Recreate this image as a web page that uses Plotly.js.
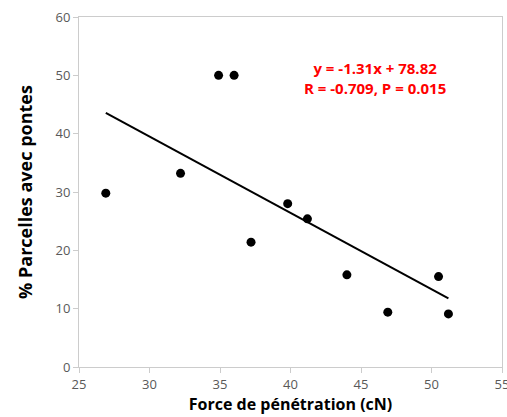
<!DOCTYPE html>
<html>
<head>
<meta charset="utf-8">
<script src="https://cdn.plot.ly/plotly-3.0.1.min.js"></script>
<style>html,body{margin:0;padding:0;background:#fff;}#chart{width:507px;height:417px;}</style>
</head>
<body>
<div id="chart"></div>
<script>
// Data
const force = [26.9, 32.2, 34.9, 36.0, 37.2, 39.8, 41.2, 44.0, 46.9, 50.5, 51.2];
const parcelles = [29.8, 33.2, 50.0, 50.0, 21.4, 28.0, 25.4, 15.8, 9.4, 15.5, 9.1];
const slope = -1.31;
const intercept = 78.82;
const xTicks = [25, 30, 35, 40, 45, 50, 55];
const yTicks = [0, 10, 20, 30, 40, 50, 60];
const eqText = 'y = -1.31x + 78.82<br>R = -0.709, P = 0.015';

const xMin = Math.min(...force), xMax = Math.max(...force);
const trendX = [xMin, xMax];
const trendY = trendX.map(x => slope * x + intercept);

const axisCommon = {
  showgrid: false, zeroline: false, showline: true, mirror: true,
  linecolor: '#cccccc', linewidth: 1,
  ticks: 'outside', ticklen: 5, tickcolor: '#cccccc',
  ticklabeloverflow: 'allow',
  tickfont: {family: 'Open Sans, sans-serif', size: 13, color: '#595959'}
};

Plotly.newPlot('chart', [
  {x: trendX, y: trendY, mode: 'lines', line: {color: '#000', width: 2}, hoverinfo: 'skip'},
  {x: force, y: parcelles, mode: 'markers', marker: {color: '#000', size: 9}}
], {
  width: 507, height: 417,
  margin: {l: 79, r: 5, t: 17, b: 50},
  showlegend: false,
  paper_bgcolor: '#fff', plot_bgcolor: '#fff',
  xaxis: Object.assign({}, axisCommon, {
    range: [25, 55], tickvals: xTicks,
    title: {text: 'Force de pénétration (cN)', font: {family: 'Open Sans, sans-serif', size: 16, color: '#000', weight: 'bold'}, standoff: 6}
  }),
  yaxis: Object.assign({}, axisCommon, {
    range: [0, 60], tickvals: yTicks,
    title: {text: '% Parcelles avec pontes', font: {family: 'Open Sans, sans-serif', size: 18, color: '#000', weight: 'bold'}, standoff: 18}
  }),
  annotations: [{
    x: 46.0, y: 49.5, xref: 'x', yref: 'y', text: eqText, showarrow: false,
    font: {family: 'Open Sans, sans-serif', size: 15, color: '#ff0000', weight: 'bold'},
    align: 'center'
  }]
}, {displayModeBar: false, staticPlot: true});
</script>
</body>
</html>
